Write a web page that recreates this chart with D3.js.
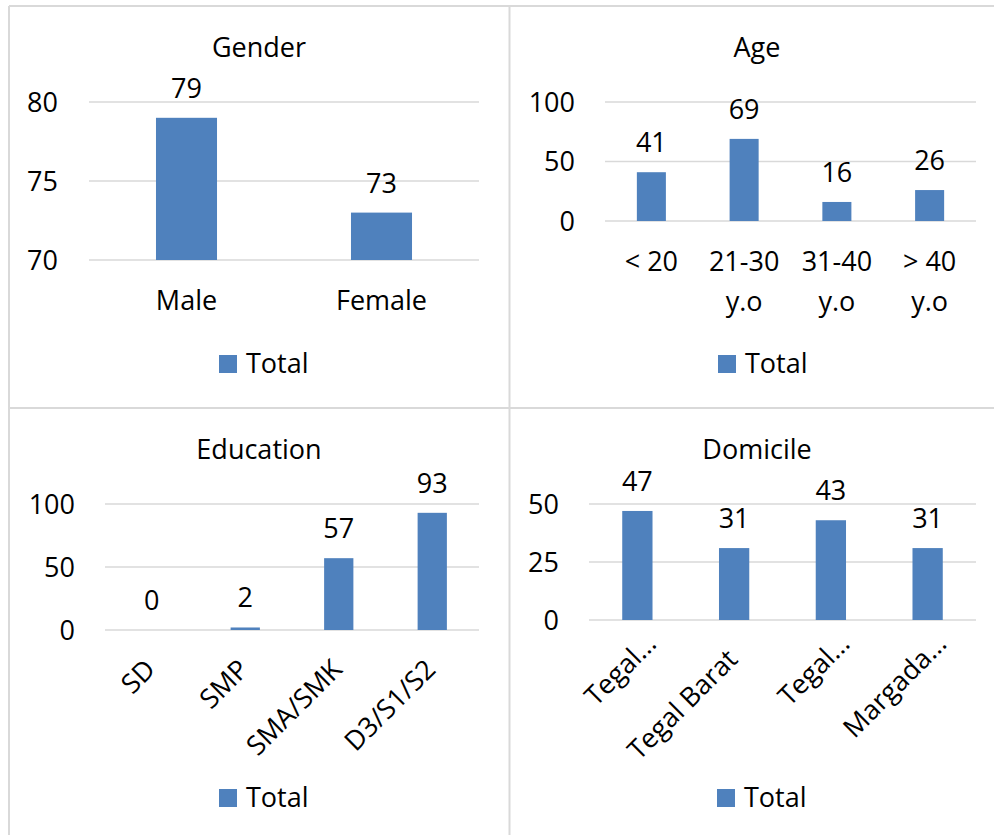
<!DOCTYPE html>
<html><head><meta charset="utf-8">
<script src="https://cdn.jsdelivr.net/npm/d3@7"></script>
<style>
body{margin:0;background:#fff}
svg{display:block}
text{font-family:"Open Sans",sans-serif;fill:#000;font-size:27px}
</style>
</head><body><svg id="c" width="994" height="835"></svg>
<script>
const genderCategories = ["Male", "Female"];
const genderValues = [79, 73];
const genderTicks = [70, 75, 80];

const ageCategories = ["< 20", "21-30 y.o", "31-40 y.o", "> 40 y.o"];
const ageValues = [41, 69, 16, 26];
const ageTicks = [0, 50, 100];

const educationCategories = ["SD", "SMP", "SMA/SMK", "D3/S1/S2"];
const educationValues = [0, 2, 57, 93];
const educationTicks = [0, 50, 100];

const domicileCategories = ["Tegal…", "Tegal Barat", "Tegal…", "Margada…"];
const domicileValues = [47, 31, 43, 31];
const domicileTicks = [0, 25, 50];

const seriesName = "Total";

const BAR = "#4f81bd", GRID = "#d9d9d9", BORDER = "#d9d9d9";
const svg = d3.select("#c");

// panel frames
const frame = svg.append("g").attr("stroke", BORDER).attr("stroke-width", 2);
frame.append("line").attr("x1", 9).attr("x2", 994).attr("y1", 6).attr("y2", 6);
frame.append("line").attr("x1", 9).attr("x2", 994).attr("y1", 408).attr("y2", 408);
frame.append("line").attr("x1", 9).attr("x2", 9).attr("y1", 6).attr("y2", 835);
frame.append("line").attr("x1", 509.5).attr("x2", 509.5).attr("y1", 6).attr("y2", 835);

const panels = [
  {title: "Gender", cats: genderCategories, vals: genderValues, ticks: genderTicks,
   x0: 89, x1: 479, yTop: 102, yBot: 260, tickX: 58, cx: 259, titleY: 57, rotate: false, legX: 219, legY: 355},
  {title: "Age", cats: ageCategories, vals: ageValues, ticks: ageTicks,
   x0: 605, x1: 976, yTop: 102, yBot: 221, tickX: 575, cx: 757, titleY: 57, rotate: false, legX: 718, legY: 355},
  {title: "Education", cats: educationCategories, vals: educationValues, ticks: educationTicks,
   x0: 105, x1: 479, yTop: 504, yBot: 630, tickX: 75, cx: 259, titleY: 459, rotate: true, legX: 219, legY: 789},
  {title: "Domicile", cats: domicileCategories, vals: domicileValues, ticks: domicileTicks,
   x0: 589, x1: 976, yTop: 504, yBot: 620, tickX: 559, cx: 757, titleY: 459, rotate: true, legX: 717, legY: 789}
];

panels.forEach(p => {
  const g = svg.append("g");
  const idx = p.cats.map((c, i) => i);
  const x = d3.scaleBand().domain(idx).range([p.x0, p.x1]).paddingInner(0.687).paddingOuter(0.3435);
  const y = d3.scaleLinear().domain(d3.extent(p.ticks)).range([p.yBot, p.yTop]);

  // title
  g.append("text").attr("x", p.cx).attr("y", p.titleY).attr("text-anchor", "middle").text(p.title);

  // gridlines
  g.append("g").selectAll("line").data(p.ticks).join("line")
    .attr("x1", p.x0).attr("x2", p.x1)
    .attr("y1", d => y(d)).attr("y2", d => y(d))
    .attr("stroke", GRID).attr("stroke-width", 1.6);

  // y tick labels
  g.append("g").selectAll("text").data(p.ticks).join("text")
    .attr("x", p.tickX).attr("y", d => y(d)).attr("dy", "0.36em")
    .attr("text-anchor", "end").text(d => d);

  // bars
  g.append("g").selectAll("rect").data(p.vals).join("rect")
    .attr("x", (d, i) => x(i)).attr("width", x.bandwidth())
    .attr("y", d => y(d)).attr("height", d => p.yBot - y(d))
    .attr("fill", BAR);

  // value labels
  g.append("g").selectAll("text").data(p.vals).join("text")
    .attr("x", (d, i) => x(i) + x.bandwidth() / 2)
    .attr("y", d => y(d) - 20)
    .attr("text-anchor", "middle").text(d => d);

  // category labels
  const cg = g.append("g");
  if (!p.rotate) {
    p.cats.forEach((c, i) => {
      const t = cg.append("text").attr("text-anchor", "middle");
      const cx = x(i) + x.bandwidth() / 2;
      // wrap words to band width
      const words = c.split(" ");
      let lines = [], cur = "";
      const meas = cg.append("text");
      words.forEach(w => {
        const test = cur ? cur + " " + w : w;
        meas.text(test);
        if (meas.node().getComputedTextLength() > x.step() && cur) { lines.push(cur); cur = w; }
        else cur = test;
      });
      lines.push(cur);
      meas.remove();
      lines.forEach((l, k) => {
        t.append("tspan").attr("x", cx).attr("y", p.yBot + 50 + k * 40).text(l);
      });
    });
  } else {
    p.cats.forEach((c, i) => {
      const cx = x(i) + x.bandwidth() / 2;
      const shift = c.endsWith("…") ? 22 : 0;
      cg.append("text")
        .attr("transform", `translate(${cx + 5},${p.yBot + 41}) rotate(-45)`)
        .attr("x", shift)
        .attr("text-anchor", "end").text(c);
    });
  }

  // legend
  g.append("rect").attr("x", p.legX).attr("y", p.legY).attr("width", 18).attr("height", 18).attr("fill", BAR);
  g.append("text").attr("x", p.legX + 27).attr("y", p.legY + 18).text(seriesName);
});
</script>
</body></html>
